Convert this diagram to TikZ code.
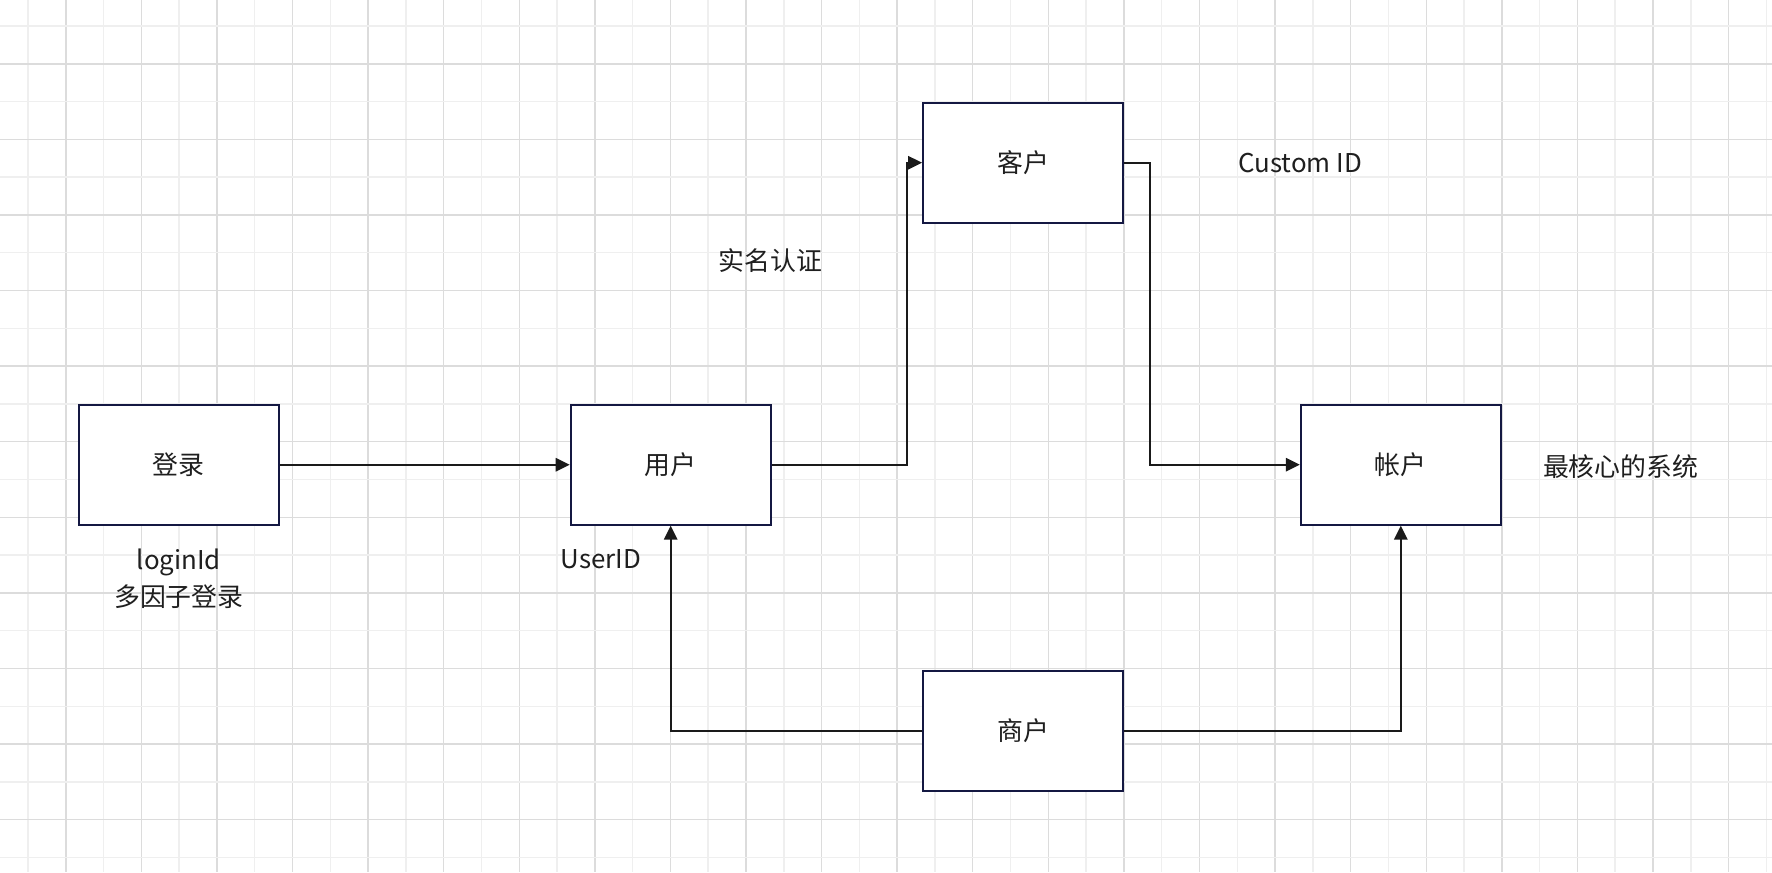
\documentclass[tikz,border=0pt]{standalone}
\usepackage{fontspec}
\setmainfont{Noto Sans CJK SC}
\usetikzlibrary{arrows.meta}

\definecolor{gridminor}{HTML}{EFEFEF}
\definecolor{gridmajor}{HTML}{DCDCDC}
\definecolor{boxline}{HTML}{141842}
\definecolor{wire}{HTML}{1A1A1A}
\definecolor{ink}{HTML}{1F1F1F}

\tikzset{
  entity/.style={draw=boxline, line width=1.5pt, fill=white,
    minimum width=150pt, minimum height=90pt, inner sep=0pt,
    font=\fontsize{19.4}{23}\selectfont, text=ink},
  note/.style={font=\fontsize{19.4}{27.5}\selectfont, text=ink, align=center, inner sep=0pt},
  link/.style={draw=wire, line width=1.5pt, -{Triangle[length=10.5pt,width=10pt]}},
}

\begin{document}
\begin{tikzpicture}[x=0.75pt, y=-0.75pt]
  \useasboundingbox (0,0) rectangle (1772,872);
  \fill[white] (0,0) rectangle (1772,872);

  % background grid, every second line darker
  \foreach \k in {0,...,46} {
    \pgfmathsetmacro{\gx}{28+37.79*\k}
    \ifodd\k
      \draw[gridmajor, line width=1.1pt] (\gx,0) -- (\gx,872);
    \else
      \draw[gridminor, line width=1.1pt] (\gx,0) -- (\gx,872);
    \fi
  }
  \foreach \k in {0,...,22} {
    \pgfmathsetmacro{\gy}{26+37.79*\k}
    \ifodd\k
      \draw[gridmajor, line width=1.1pt] (0,\gy) -- (1772,\gy);
    \else
      \draw[gridminor, line width=1.1pt] (0,\gy) -- (1772,\gy);
    \fi
  }

  % entities
  \node[entity] (login)    at (178.8,464.7)  {登录};
  \node[entity] (user)     at (670.7,464.7)  {用户};
  \node[entity] (customer) at (1023,162.7)   {客户};
  \node[entity] (account)  at (1400.8,464.7) {帐户};
  \node[entity] (merchant) at (1023,730.7)   {商户};

  % annotations
  \node[note] (loginnote) at (178.8,579) {loginId\\多因子登录};
  \node[note] (useridnote) at (600.7,559) {UserID};
  \node[note] (realname) at (770.5,261) {实名认证};
  \node[note] (customid) at (1300,163.5) {Custom ID};
  \node[note] (corenote) at (1620.7,466.5) {最核心的系统};

  % connectors
  \coordinate (bendA) at (907,464.7);
  \coordinate (bendB) at (1150.3,162.7);
  \draw[link] (login.east) -- (user.west);
  \draw[link] (user.east) -- (bendA) |- (customer.west);
  \draw[link] (customer.east) -- (bendB) |- (account.west);
  \draw[link] (merchant.west) -| (user.south);
  \draw[link] (merchant.east) -| (account.south);
\end{tikzpicture}
\end{document}
